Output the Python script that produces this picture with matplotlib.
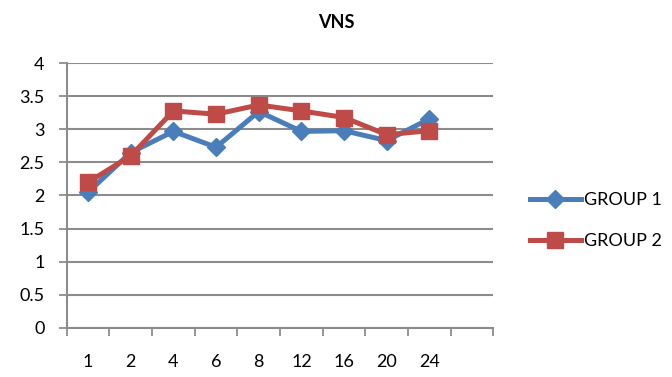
import matplotlib
matplotlib.use("Agg")
import matplotlib.pyplot as plt
import numpy as np

plt.rcParams['font.family'] = ['Lato', 'DejaVu Sans']

hours = ["1", "2", "4", "6", "8", "12", "16", "20", "24"]
group1 = [2.05, 2.65, 2.97, 2.73, 3.27, 2.97, 2.98, 2.83, 3.16]
group2 = [2.20, 2.60, 3.28, 3.23, 3.37, 3.28, 3.18, 2.92, 2.98]
n_slots = 10  # one spare empty category slot at the right end

fig = plt.figure(figsize=(6.72, 3.77), dpi=100)
ax = fig.add_axes([0.0993, 0.131, 0.635, 0.701])

x = np.arange(len(hours))
grid_c = "#8c8c8c"
ax.plot(x, group1, color="#4a7ebb", lw=3.6, marker="D", ms=9,
        label="GROUP 1", zorder=3)
ax.plot(x, group2, color="#be4b48", lw=3.6, marker="s", ms=11,
        label="GROUP 2", zorder=4)

ax.set_xlim(-0.5, n_slots - 0.5)
ax.set_ylim(0, 4)
ax.set_yticks(np.arange(0, 4.01, 0.5))
ax.set_yticklabels(["0", "0.5", "1", "1.5", "2", "2.5", "3", "3.5", "4"])
ax.yaxis.grid(True, color=grid_c, lw=1.5)
ax.set_axisbelow(True)

ax.set_xticks(np.arange(-0.5, n_slots, 1.0))
ax.set_xticklabels([])
ax.set_xticks(x, minor=True)
ax.set_xticklabels(hours, minor=True)
ax.tick_params(axis="x", which="major", length=6, width=1.3, color=grid_c,
               direction="out")
ax.tick_params(axis="x", which="minor", length=0, pad=19, labelsize=13)
ax.tick_params(axis="y", length=6, width=1.3, color=grid_c, labelsize=13,
               pad=10)

for s in ["top", "right"]:
    ax.spines[s].set_visible(False)
for s in ["left", "bottom"]:
    ax.spines[s].set_color(grid_c)
    ax.spines[s].set_linewidth(1.5)

fig.text(0.5, 0.94, "VNS", ha="center", va="center", fontsize=13,
         fontweight="bold")

fig.legend(loc="center left", bbox_to_anchor=(0.789, 0.415), frameon=False,
           fontsize=13, handlelength=2.8, labelspacing=1.4, handletextpad=0.2,
           borderaxespad=0, borderpad=0)

fig.savefig("out.png", dpi=100)
